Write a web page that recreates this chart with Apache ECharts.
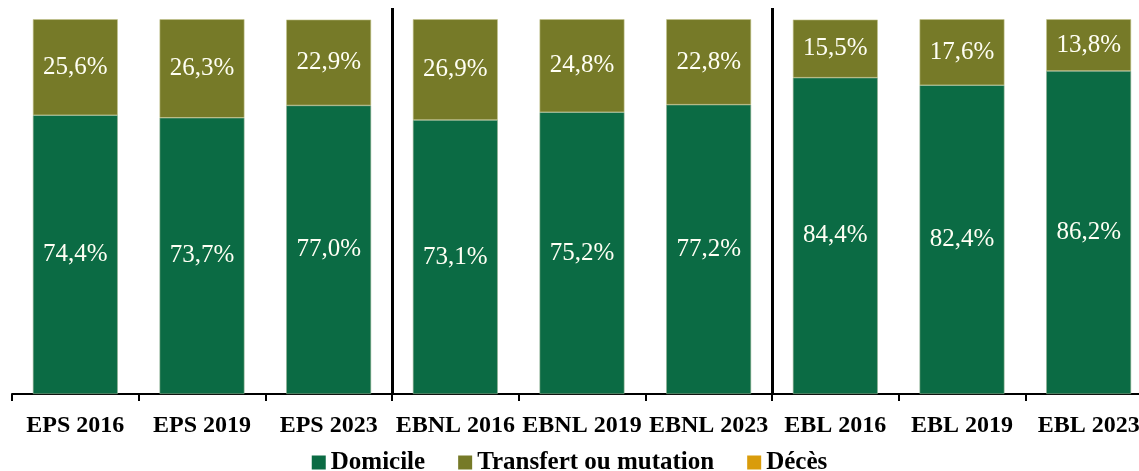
<!DOCTYPE html>
<html>
<head>
<meta charset="utf-8">
<script src="https://cdn.jsdelivr.net/npm/echarts@6/dist/echarts.min.js"></script>
<style>
  html, body { margin: 0; padding: 0; background: #fff; }
  #chart { width: 1139px; height: 471px; }
</style>
</head>
<body>
<div id="chart"></div>
<script>
// categories and values
const categories = ["EPS 2016", "EPS 2019", "EPS 2023", "EBNL 2016", "EBNL 2019", "EBNL 2023", "EBL 2016", "EBL 2019", "EBL 2023"];
const domicile = [74.4, 73.7, 77.0, 73.1, 75.2, 77.2, 84.4, 82.4, 86.2];
const transfert = [25.6, 26.3, 22.9, 26.9, 24.8, 22.8, 15.5, 17.6, 13.8];
const deces = [0, 0, 0, 0, 0, 0, 0, 0, 0];
// group separators sit before these categories
const groupStarts = [3, 6];

const serif = "Liberation Serif";
const fmt = (p) => p.value.toFixed(1).replace(".", ",") + "%";

const segLabel = {
  show: true,
  position: "inside",
  color: "#fffff4",
  fontFamily: serif,
  fontSize: 25,
  formatter: fmt,
};

const chart = echarts.init(document.getElementById("chart"));
const option = {
  animation: false,
  grid: { left: 12, top: 8, right: -13, bottom: 77, containLabel: false, outerBoundsMode: "none" },
  legend: {
    bottom: -9,
    left: "center",
    itemWidth: 14,
    itemHeight: 14,
    itemGap: 33,
    icon: "rect",
    itemStyle: { borderWidth: 0 },
    textStyle: { fontFamily: serif, fontWeight: "bold", fontSize: 25, color: "#000" },
    data: ["Domicile", "Transfert ou mutation", "Décès"],
  },
  xAxis: {
    type: "category",
    data: categories,
    axisLine: { lineStyle: { color: "#000", width: 2 } },
    axisTick: { show: true, length: 7, lineStyle: { color: "#000", width: 2 } },
    axisLabel: {
      interval: 0,
      margin: 20,
      color: "#000",
      fontFamily: serif,
      fontWeight: "bold",
      fontSize: 24,
    },
    splitLine: {
      show: true,
      interval: (i) => groupStarts.includes(i),
      lineStyle: { color: "#000", width: 3 },
    },
  },
  yAxis: {
    type: "value",
    min: 0,
    max: 103,
    show: false,
    splitLine: { show: false },
  },
  series: [
    {
      name: "Domicile",
      type: "bar",
      stack: "total",
      barCategoryGap: "33%",
      data: domicile,
      itemStyle: { color: "#0b6b44", borderColor: "#8fae8f", borderWidth: 0.6 },
      label: segLabel,
    },
    {
      name: "Transfert ou mutation",
      type: "bar",
      stack: "total",
      data: transfert,
      itemStyle: { color: "#767a28", borderColor: "#c2c48c", borderWidth: 0.6 },
      label: segLabel,
    },
    {
      name: "Décès",
      type: "bar",
      stack: "total",
      data: deces,
      itemStyle: { color: "#d99c0b" },
      label: { show: false },
    },
  ],
};
chart.setOption(option);
</script>
</body>
</html>
